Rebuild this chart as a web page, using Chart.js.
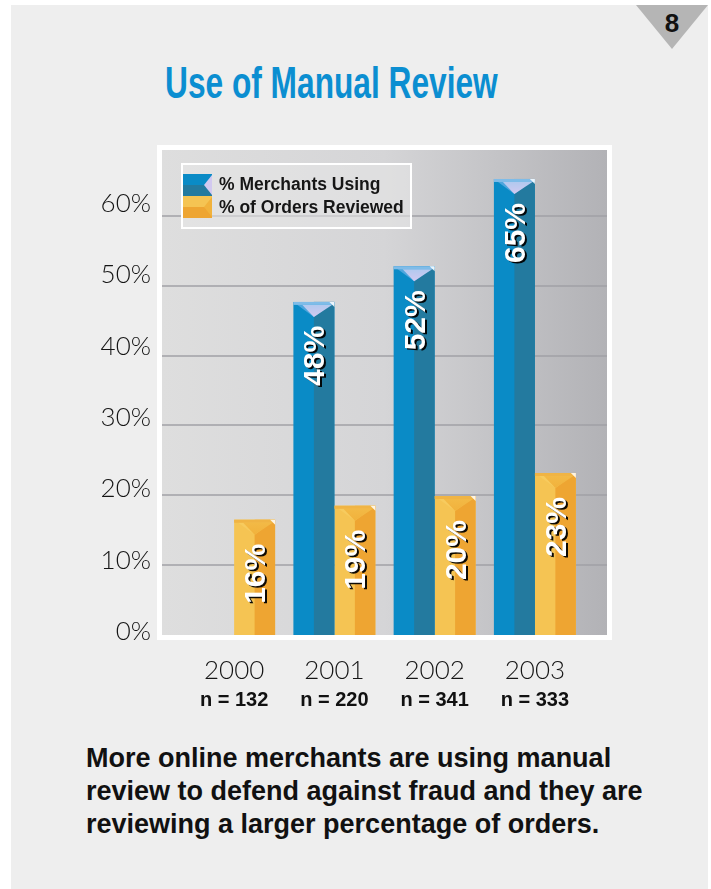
<!DOCTYPE html>
<html>
<head>
<meta charset="utf-8">
<script src="https://cdn.jsdelivr.net/npm/chart.js@4.4.1/dist/chart.umd.min.js"></script>
<style>
  html, body { margin: 0; padding: 0; background: #fff; }
  body { width: 711px; height: 889px; position: relative; overflow: hidden; font-family: "Liberation Sans", Arial, sans-serif; }
  #panel { position: absolute; left: 11px; top: 5px; width: 697px; height: 884px; background: #eeeeee; }
  #corner { position: absolute; left: 636px; top: 5px; width: 72px; height: 44px; background: #b5b5b5;
            clip-path: polygon(0 0, 100% 0, 50% 100%); }
  #pagenum { position: absolute; left: 636px; top: 8px; width: 72px; text-align: center;
             font: bold 26px "Liberation Sans", Arial, sans-serif; line-height: 30px; color: #111; }
  #title { position: absolute; left: 165px; top: 60px; white-space: nowrap; transform-origin: 0 0;
           font: bold 45px "Liberation Sans Narrow", "Liberation Sans", Arial, sans-serif; line-height: 45px; color: #0b8ed1; }
  #wrap { position: absolute; left: 0; top: 134px; width: 711px; height: 586px; }
  #wrap canvas { display: block; }
  #note { position: absolute; left: 86px; top: 742px; white-space: nowrap;
          font: bold 27px "Liberation Sans", Arial, sans-serif; line-height: 33px; color: #111; }
</style>
</head>
<body>
<div id="panel"></div>
<div id="corner"></div>
<div id="pagenum">8</div>
<div id="title">Use of Manual Review</div>
<div id="wrap"><canvas id="chart" width="711" height="586"></canvas></div>
<div id="note">More online merchants are using manual<br>review to defend against fraud and they are<br>reviewing a larger percentage of orders.</div>

<script>
// valeurs
const years = ['2000', '2001', '2002', '2003'];
const sampleSizes = ['n = 132', 'n = 220', 'n = 341', 'n = 333'];
const merchantsUsing = [null, 47.7, 52.8, 65.3];
const ordersReviewed = [16.5, 18.5, 19.9, 23.2];
const merchantsText = [null, '48%', '52%', '65%'];
const ordersText = ['16%', '19%', '20%', '23%'];
const yTicks = [0, 10, 20, 30, 40, 50, 60];

// titre condensé : on l'écrase à la largeur voulue
const title = document.getElementById('title');
title.style.transform = 'scaleX(' + (333 / title.offsetWidth) + ')';

const EXTRA = 22; // le fond gris déborde de la zone des catégories

const framePlugin = {
    id: 'frame',
    beforeDraw(chart) {
        const { ctx, chartArea: ca } = chart;
        const x0 = ca.left - EXTRA, x1 = ca.right + EXTRA;
        ctx.save();
        ctx.fillStyle = '#ffffff';
        ctx.fillRect(x0 - 5, ca.top - 5, x1 - x0 + 10, ca.bottom - ca.top + 10);
        const g = ctx.createLinearGradient(x0, 0, x1, 0);
        g.addColorStop(0, '#dedede');
        g.addColorStop(0.5, '#d5d5d7');
        g.addColorStop(1, '#b2b2b6');
        ctx.fillStyle = g;
        ctx.fillRect(x0, ca.top, x1 - x0, ca.bottom - ca.top);
        ctx.restore();
    },
    beforeDatasetsDraw(chart) {
        const { ctx, chartArea: ca } = chart;
        const yScale = chart.scales.y;
        const x0 = ca.left - EXTRA, x1 = ca.right + EXTRA;
        ctx.save();
        ctx.fillStyle = 'rgba(160,160,165,0.75)';
        yTicks.forEach(v => {
            if (v === 0) return;
            const y = Math.round(yScale.getPixelForValue(v));
            ctx.fillRect(x0, y - 1, x1 - x0, 2);
        });
        ctx.restore();
    }
};

const barPlugin = {
    id: 'bars3d',
    afterDatasetsDraw(chart) {
        const ctx = chart.ctx;
        chart.data.datasets.forEach((ds, di) => {
            const meta = chart.getDatasetMeta(di);
            meta.data.forEach((bar, i) => {
                if (ds.data[i] == null) return;
                const { x, y, width, base } = bar.getProps(['x', 'y', 'width', 'base'], true);
                const L = x - width / 2, R = x + width / 2;
                ctx.save();
                // face droite plus sombre
                ctx.fillStyle = ds.sideColor;
                ctx.fillRect(x, y, R - x, base - y);
                // chapeau en pointe
                ctx.fillStyle = ds.capOuter;
                ctx.beginPath();
                ctx.moveTo(L, y); ctx.lineTo(R, y); ctx.lineTo(x, y + 15); ctx.closePath();
                ctx.fill();
                const g = ctx.createLinearGradient(0, y, 0, y + 15);
                g.addColorStop(0, ds.capInner[0]);
                g.addColorStop(1, ds.capInner[1]);
                ctx.fillStyle = g;
                ctx.beginPath();
                ctx.moveTo(L + width * 0.22, y + 3); ctx.lineTo(R - width * 0.06, y + 3); ctx.lineTo(x, y + 15); ctx.closePath();
                ctx.fill();
                ctx.fillStyle = ds.capTop;
                ctx.fillRect(L, y, width, 3);
                ctx.fillStyle = 'rgba(255,255,255,0.85)';
                ctx.beginPath();
                ctx.moveTo(R - 5, y); ctx.lineTo(R, y); ctx.lineTo(R, y + 5); ctx.closePath();
                ctx.fill();
                // étiquette verticale
                ctx.translate(x, y + 24);
                ctx.rotate(-Math.PI / 2);
                ctx.font = 'bold 30px "Liberation Sans", Arial, sans-serif';
                ctx.textAlign = 'right';
                ctx.textBaseline = 'alphabetic';
                ctx.shadowColor = 'rgba(0,0,0,0.95)';
                ctx.shadowOffsetX = 2;
                ctx.shadowOffsetY = 1.5;
                ctx.shadowBlur = 0;
                ctx.fillStyle = '#ffffff';
                ctx.fillText(ds.valueText[i], 0, 10.5);
                ctx.restore();
            });
        });
    },
    afterDraw(chart) {
        const { ctx, chartArea: ca } = chart;
        ctx.save();
        // légende maison
        const lx = ca.left - 3, ly = ca.top + 13, lw = 231, lh = 66;
        ctx.fillStyle = 'rgba(232,232,232,0.55)';
        ctx.fillRect(lx, ly, lw, lh);
        ctx.strokeStyle = '#ffffff';
        ctx.lineWidth = 2;
        ctx.strokeRect(lx + 1, ly + 1, lw - 2, lh - 2);
        chart.data.datasets.forEach((ds, di) => {
            const sx = lx + 2, sy = ly + 11 + di * 22, sw = 29, sh = 22;
            ctx.fillStyle = ds.backgroundColor;
            ctx.fillRect(sx, sy, sw, sh / 2);
            ctx.fillStyle = ds.sideColor;
            ctx.fillRect(sx, sy + sh / 2, sw, sh / 2);
            ctx.fillStyle = ds.capInner[1];
            ctx.beginPath();
            ctx.moveTo(sx + sw, sy + 1); ctx.lineTo(sx + sw, sy + sh - 1); ctx.lineTo(sx + sw - 8, sy + sh / 2); ctx.closePath();
            ctx.fill();
            ctx.fillStyle = '#161616';
            ctx.font = 'bold 17.5px "Liberation Sans", Arial, sans-serif';
            ctx.textAlign = 'left';
            ctx.textBaseline = 'middle';
            ctx.fillText(ds.label, lx + 38, ly + 22 + di * 23);
        });
        // effectifs sous les années
        const xScale = chart.scales.x;
        ctx.font = 'bold 20px "Liberation Sans", Arial, sans-serif';
        ctx.textAlign = 'center';
        ctx.textBaseline = 'middle';
        ctx.fillStyle = '#111';
        sampleSizes.forEach((s, i) => {
            ctx.fillText(s, xScale.getPixelForTick(i), ca.bottom + 65);
        });
        ctx.restore();
    }
};

new Chart(document.getElementById('chart'), {
    type: 'bar',
    data: {
        labels: years,
        datasets: [{
            label: '% Merchants Using',
            data: merchantsUsing,
            valueText: merchantsText,
            backgroundColor: '#0a8bc6',
            sideColor: '#237a9f',
            capOuter: '#4ea6dd',
            capInner: ['#a9c9ee', '#d2c9f0'],
            capTop: '#7fbce8'
        }, {
            label: '% of Orders Reviewed',
            data: ordersReviewed,
            valueText: ordersText,
            backgroundColor: '#f5c453',
            sideColor: '#eea532',
            capOuter: '#f7cb5e',
            capInner: ['#f3bb48', '#f1b23c'],
            capTop: '#f0b444'
        }]
    },
    options: {
        responsive: false,
        animation: false,
        layout: { padding: { left: 0, right: 126, top: 16, bottom: 0 } },
        datasets: { bar: { categoryPercentage: 0.8175, barPercentage: 1.0 } },
        plugins: { legend: { display: false }, tooltip: { enabled: false } },
        scales: {
            x: {
                grid: { display: false },
                border: { display: false },
                afterFit: axis => { axis.height = 85; },
                ticks: {
                    padding: 12,
                    color: '#151515',
                    font: { family: 'Lato', weight: 300, size: 26 }
                }
            },
            y: {
                display: false,
                min: 0,
                max: 69.45
            },
            yl: {
                type: 'linear',
                position: 'left',
                min: -0.49,
                max: 67.5,
                grid: { display: true, drawOnChartArea: false, drawTicks: true, tickLength: 33, color: 'rgba(0,0,0,0)' },
                border: { display: false },
                afterBuildTicks: axis => { axis.ticks = yTicks.map(v => ({ value: v })); },
                afterFit: axis => { axis.width = 184; },
                ticks: {
                    padding: 0,
                    color: '#151515',
                    font: { family: 'Lato', weight: 300, size: 26 },
                    callback: v => v + '%'
                }
            }
        }
    },
    plugins: [framePlugin, barPlugin]
});
</script>
</body>
</html>
